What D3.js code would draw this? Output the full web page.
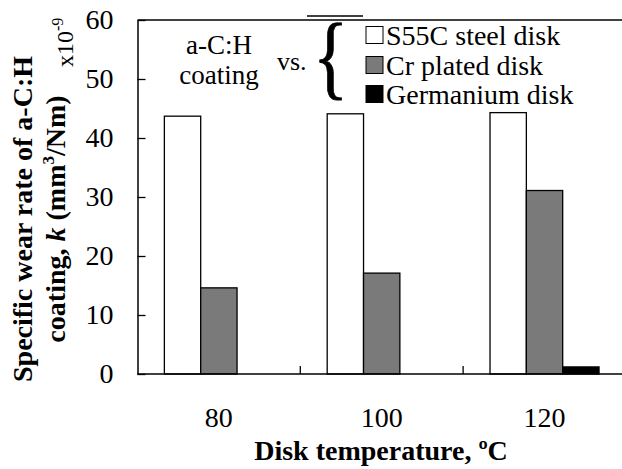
<!DOCTYPE html>
<html>
<head>
<meta charset="utf-8">
<script src="https://cdn.jsdelivr.net/npm/d3@7/dist/d3.min.js"></script>
<style>
  html, body { margin: 0; padding: 0; background: #fff; }
  svg { display: block; }
  svg text { font-family: "Liberation Serif", "Times New Roman", serif; fill: #000; }
</style>
</head>
<body>
<svg id="chart" width="622" height="469" font-family="Liberation Serif, serif"></svg>
<script>
// Disk temperature groups (ºC)
const temperatures = ["80", "100", "120"];
// Counterface disk materials
const diskTypes = ["S55C steel disk", "Cr plated disk", "Germanium disk"];
// Specific wear rate of the a-C:H coating, ×10^-9 mm³/Nm
const steelDisk = [43.7, 44.1, 44.3];
const crPlatedDisk = [14.6, 17.1, 31.1];
const germaniumDisk = [0, 0, 1.2];
const yTicks = [0, 10, 20, 30, 40, 50, 60];

const seriesValues = [steelDisk, crPlatedDisk, germaniumDisk];
const fills = ["#ffffff", "#7a7a7a", "#000000"];

const svg = d3.select("#chart");

const plotLeft = 137.5, plotTop = 20, plotBottom = 374, groupStep = 162.8;

const x0 = d3.scaleBand()
  .domain(temperatures)
  .range([plotLeft, plotLeft + groupStep * temperatures.length])
  .paddingInner(0.3305)
  .paddingOuter(0.165);

const x1 = d3.scaleBand()
  .domain(diskTypes)
  .range([0, x0.bandwidth()])
  .padding(0);

const y = d3.scaleLinear().domain([0, 60]).range([plotBottom, plotTop]);

// Bars
const rows = temperatures.map((t, i) => ({
  t,
  vals: diskTypes.map((s, j) => ({ s, j, v: seriesValues[j][i] }))
}));

const groups = svg.append("g").selectAll("g")
  .data(rows).join("g")
  .attr("transform", d => `translate(${x0(d.t)},0)`);

groups.selectAll("rect")
  .data(d => d.vals.filter(e => e.v > 0))
  .join("rect")
  .attr("x", e => x1(e.s))
  .attr("y", e => y(e.v))
  .attr("width", x1.bandwidth())
  .attr("height", e => y(0) - y(e.v))
  .attr("fill", e => fills[e.j])
  .attr("stroke", "#000")
  .attr("stroke-width", 1.3);

// Top frame line
svg.append("line")
  .attr("x1", plotLeft).attr("x2", 622)
  .attr("y1", y(60)).attr("y2", y(60))
  .attr("stroke", "#000").attr("stroke-width", 1.3);

// Y axis with inward ticks
const yAxis = d3.axisLeft(y)
  .tickValues(yTicks)
  .tickFormat(d3.format("d"))
  .tickSizeInner(-8)
  .tickSizeOuter(0)
  .tickPadding(24);

const gy = svg.append("g")
  .attr("transform", `translate(${plotLeft},0)`)
  .call(yAxis)
  .attr("font-family", "Liberation Serif, serif");
gy.select(".domain").attr("stroke", "#000").attr("stroke-width", 1.5);
gy.selectAll(".tick line").attr("stroke", "#000").attr("stroke-width", 1.3);
gy.selectAll(".tick text")
  .attr("font-size", 28)
  .attr("fill", "#000");

// X axis: baseline, category separators, labels
svg.append("line")
  .attr("x1", plotLeft).attr("x2", 622)
  .attr("y1", plotBottom).attr("y2", plotBottom)
  .attr("stroke", "#000").attr("stroke-width", 1.5);

const separators = temperatures.slice(0, -1).map(t => x0(t) + x0.bandwidth() + (x0.step() - x0.bandwidth()) / 2);
svg.append("g").selectAll("line")
  .data(separators).join("line")
  .attr("x1", d => d).attr("x2", d => d)
  .attr("y1", plotBottom).attr("y2", plotBottom - 8)
  .attr("stroke", "#000").attr("stroke-width", 1.3);

const xAxis = d3.axisBottom(x0).tickSize(0).tickPadding(33);
const gx = svg.append("g")
  .attr("transform", `translate(0,${plotBottom})`)
  .call(xAxis)
  .attr("font-family", "Liberation Serif, serif");
gx.select(".domain").remove();
gx.selectAll(".tick text")
  .attr("font-size", 28)
  .attr("fill", "#000");

// X title
svg.append("text")
  .attr("x", 381).attr("y", 460)
  .attr("text-anchor", "middle")
  .attr("font-size", 28)
  .attr("font-weight", "bold")
  .text("Disk temperature, ºC");

// Y title (two lines, rotated)
const yTitle = svg.append("g").attr("transform", "translate(0,219) rotate(-90)");
yTitle.append("text")
  .attr("x", 0).attr("y", 32)
  .attr("text-anchor", "middle")
  .attr("font-size", 28)
  .attr("font-weight", "bold")
  .text("Specific wear rate of a-C:H");
const line2 = yTitle.append("text")
  .attr("x", 0).attr("y", 65)
  .attr("text-anchor", "middle")
  .attr("font-size", 28)
  .attr("font-weight", "bold");
line2.append("tspan").text("coating, ");
line2.append("tspan").attr("font-style", "italic").text("k");
line2.append("tspan").text(" (mm");
line2.append("tspan").attr("font-size", 17).attr("dy", -11).text("3");
line2.append("tspan").attr("dy", 11).text("/Nm)");

// Unit multiplier
const mult = svg.append("text")
  .attr("transform", "translate(73,67) rotate(-90)")
  .attr("font-size", 24);
mult.append("tspan").text("x10");
mult.append("tspan").attr("font-size", 16).attr("dy", -10).text("-9");

// Annotation inside the plot
svg.append("text")
  .attr("x", 219).attr("y", 54)
  .attr("text-anchor", "middle")
  .attr("font-size", 27)
  .text("a-C:H");
svg.append("text")
  .attr("x", 219).attr("y", 84)
  .attr("text-anchor", "middle")
  .attr("font-size", 27)
  .text("coating");
svg.append("text")
  .attr("x", 277).attr("y", 70)
  .attr("font-size", 26)
  .text("vs.");

// Brace grouping the disk materials
svg.append("rect")
  .attr("x", 306).attr("y", 8)
  .attr("width", 58).attr("height", 10)
  .attr("fill", "#fff");
svg.append("line")
  .attr("x1", 307).attr("x2", 363)
  .attr("y1", 16).attr("y2", 16)
  .attr("stroke", "#000").attr("stroke-width", 1.5);
svg.append("text")
  .attr("transform", "translate(313,88) scale(1.05,1.33)")
  .attr("font-size", 70)
  .attr("stroke", "#000")
  .attr("stroke-width", 0.6)
  .text("{");

// Legend
const legendY = [35, 65, 94];
const legend = svg.append("g").selectAll("g")
  .data(diskTypes).join("g")
  .attr("transform", (d, i) => `translate(366,${legendY[i]})`);
legend.append("rect")
  .attr("x", 0).attr("y", -8.5)
  .attr("width", 17).attr("height", 17)
  .attr("fill", (d, i) => fills[i])
  .attr("stroke", "#000").attr("stroke-width", 1);
legend.append("text")
  .attr("x", 20).attr("y", 9.5)
  .attr("font-size", 28)
  .text(d => d);
</script>
</body>
</html>
